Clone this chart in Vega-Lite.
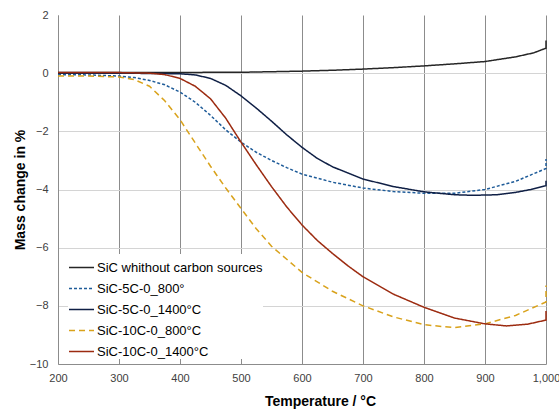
{
  "$schema": "https://vega.github.io/schema/vega-lite/v6.json",
  "width": 488,
  "height": 349,
  "autosize": {"type": "none"},
  "padding": {"left": 58, "top": 15, "right": 13, "bottom": 45},
  "background": "white",
  "config": {
    "font": "Liberation Sans",
    "view": {"stroke": null},
    "axis": {"labelFont": "Liberation Sans", "titleFont": "Liberation Sans", "labelColor": "#404040", "labelFontSize": 11, "titleFontSize": 14, "titleFontWeight": "bold", "titleColor": "#000000", "ticks": false, "domainColor": "#8c8c8c"}
  },
  "data": {"values": [
    {"s": "SiC whithout carbon sources", "o": 1, "T": 200, "v": 0.02},
    {"s": "SiC whithout carbon sources", "o": 2, "T": 300, "v": 0.02},
    {"s": "SiC whithout carbon sources", "o": 3, "T": 400, "v": 0.02},
    {"s": "SiC whithout carbon sources", "o": 4, "T": 450, "v": 0.03},
    {"s": "SiC whithout carbon sources", "o": 5, "T": 500, "v": 0.03},
    {"s": "SiC whithout carbon sources", "o": 6, "T": 550, "v": 0.05},
    {"s": "SiC whithout carbon sources", "o": 7, "T": 600, "v": 0.07},
    {"s": "SiC whithout carbon sources", "o": 8, "T": 650, "v": 0.1},
    {"s": "SiC whithout carbon sources", "o": 9, "T": 700, "v": 0.14},
    {"s": "SiC whithout carbon sources", "o": 10, "T": 750, "v": 0.19},
    {"s": "SiC whithout carbon sources", "o": 11, "T": 800, "v": 0.25},
    {"s": "SiC whithout carbon sources", "o": 12, "T": 850, "v": 0.32},
    {"s": "SiC whithout carbon sources", "o": 13, "T": 900, "v": 0.4},
    {"s": "SiC whithout carbon sources", "o": 14, "T": 950, "v": 0.56},
    {"s": "SiC whithout carbon sources", "o": 15, "T": 980, "v": 0.7},
    {"s": "SiC whithout carbon sources", "o": 16, "T": 1000, "v": 0.86},
    {"s": "SiC whithout carbon sources", "o": 17, "T": 1000, "v": 1.12},

    {"s": "SiC-5C-0_800°", "o": 1, "T": 200, "v": -0.05},
    {"s": "SiC-5C-0_800°", "o": 2, "T": 250, "v": -0.06},
    {"s": "SiC-5C-0_800°", "o": 3, "T": 300, "v": -0.1},
    {"s": "SiC-5C-0_800°", "o": 4, "T": 325, "v": -0.15},
    {"s": "SiC-5C-0_800°", "o": 5, "T": 350, "v": -0.25},
    {"s": "SiC-5C-0_800°", "o": 6, "T": 375, "v": -0.4},
    {"s": "SiC-5C-0_800°", "o": 7, "T": 400, "v": -0.65},
    {"s": "SiC-5C-0_800°", "o": 8, "T": 425, "v": -1.0},
    {"s": "SiC-5C-0_800°", "o": 9, "T": 450, "v": -1.45},
    {"s": "SiC-5C-0_800°", "o": 10, "T": 475, "v": -1.95},
    {"s": "SiC-5C-0_800°", "o": 11, "T": 500, "v": -2.37},
    {"s": "SiC-5C-0_800°", "o": 12, "T": 525, "v": -2.72},
    {"s": "SiC-5C-0_800°", "o": 13, "T": 550, "v": -3.0},
    {"s": "SiC-5C-0_800°", "o": 14, "T": 575, "v": -3.25},
    {"s": "SiC-5C-0_800°", "o": 15, "T": 600, "v": -3.47},
    {"s": "SiC-5C-0_800°", "o": 16, "T": 650, "v": -3.75},
    {"s": "SiC-5C-0_800°", "o": 17, "T": 700, "v": -3.95},
    {"s": "SiC-5C-0_800°", "o": 18, "T": 750, "v": -4.07},
    {"s": "SiC-5C-0_800°", "o": 19, "T": 800, "v": -4.13},
    {"s": "SiC-5C-0_800°", "o": 20, "T": 850, "v": -4.13},
    {"s": "SiC-5C-0_800°", "o": 21, "T": 900, "v": -4.0},
    {"s": "SiC-5C-0_800°", "o": 22, "T": 950, "v": -3.72},
    {"s": "SiC-5C-0_800°", "o": 23, "T": 1000, "v": -3.28},
    {"s": "SiC-5C-0_800°", "o": 24, "T": 1000, "v": -2.95},

    {"s": "SiC-5C-0_1400°C", "o": 1, "T": 200, "v": 0.0},
    {"s": "SiC-5C-0_1400°C", "o": 2, "T": 300, "v": 0.0},
    {"s": "SiC-5C-0_1400°C", "o": 3, "T": 400, "v": -0.02},
    {"s": "SiC-5C-0_1400°C", "o": 4, "T": 425, "v": -0.06},
    {"s": "SiC-5C-0_1400°C", "o": 5, "T": 450, "v": -0.18},
    {"s": "SiC-5C-0_1400°C", "o": 6, "T": 475, "v": -0.42},
    {"s": "SiC-5C-0_1400°C", "o": 7, "T": 500, "v": -0.78},
    {"s": "SiC-5C-0_1400°C", "o": 8, "T": 525, "v": -1.2},
    {"s": "SiC-5C-0_1400°C", "o": 9, "T": 550, "v": -1.65},
    {"s": "SiC-5C-0_1400°C", "o": 10, "T": 575, "v": -2.12},
    {"s": "SiC-5C-0_1400°C", "o": 11, "T": 600, "v": -2.55},
    {"s": "SiC-5C-0_1400°C", "o": 12, "T": 625, "v": -2.93},
    {"s": "SiC-5C-0_1400°C", "o": 13, "T": 650, "v": -3.22},
    {"s": "SiC-5C-0_1400°C", "o": 14, "T": 700, "v": -3.64},
    {"s": "SiC-5C-0_1400°C", "o": 15, "T": 750, "v": -3.9},
    {"s": "SiC-5C-0_1400°C", "o": 16, "T": 800, "v": -4.08},
    {"s": "SiC-5C-0_1400°C", "o": 17, "T": 850, "v": -4.18},
    {"s": "SiC-5C-0_1400°C", "o": 18, "T": 880, "v": -4.2},
    {"s": "SiC-5C-0_1400°C", "o": 19, "T": 920, "v": -4.18},
    {"s": "SiC-5C-0_1400°C", "o": 20, "T": 950, "v": -4.1},
    {"s": "SiC-5C-0_1400°C", "o": 21, "T": 975, "v": -4.0},
    {"s": "SiC-5C-0_1400°C", "o": 22, "T": 1000, "v": -3.87},
    {"s": "SiC-5C-0_1400°C", "o": 23, "T": 1000, "v": -3.7},

    {"s": "SiC-10C-0_800°C", "o": 1, "T": 200, "v": -0.1},
    {"s": "SiC-10C-0_800°C", "o": 2, "T": 250, "v": -0.1},
    {"s": "SiC-10C-0_800°C", "o": 3, "T": 300, "v": -0.13},
    {"s": "SiC-10C-0_800°C", "o": 4, "T": 325, "v": -0.22},
    {"s": "SiC-10C-0_800°C", "o": 5, "T": 350, "v": -0.45},
    {"s": "SiC-10C-0_800°C", "o": 6, "T": 375, "v": -0.95},
    {"s": "SiC-10C-0_800°C", "o": 7, "T": 400, "v": -1.6},
    {"s": "SiC-10C-0_800°C", "o": 8, "T": 425, "v": -2.4},
    {"s": "SiC-10C-0_800°C", "o": 9, "T": 450, "v": -3.2},
    {"s": "SiC-10C-0_800°C", "o": 10, "T": 475, "v": -3.95},
    {"s": "SiC-10C-0_800°C", "o": 11, "T": 500, "v": -4.65},
    {"s": "SiC-10C-0_800°C", "o": 12, "T": 525, "v": -5.35},
    {"s": "SiC-10C-0_800°C", "o": 13, "T": 550, "v": -5.95},
    {"s": "SiC-10C-0_800°C", "o": 14, "T": 575, "v": -6.4},
    {"s": "SiC-10C-0_800°C", "o": 15, "T": 600, "v": -6.85},
    {"s": "SiC-10C-0_800°C", "o": 16, "T": 650, "v": -7.5},
    {"s": "SiC-10C-0_800°C", "o": 17, "T": 700, "v": -8.0},
    {"s": "SiC-10C-0_800°C", "o": 18, "T": 750, "v": -8.38},
    {"s": "SiC-10C-0_800°C", "o": 19, "T": 800, "v": -8.65},
    {"s": "SiC-10C-0_800°C", "o": 20, "T": 850, "v": -8.75},
    {"s": "SiC-10C-0_800°C", "o": 21, "T": 900, "v": -8.62},
    {"s": "SiC-10C-0_800°C", "o": 22, "T": 950, "v": -8.33},
    {"s": "SiC-10C-0_800°C", "o": 23, "T": 1000, "v": -7.87},
    {"s": "SiC-10C-0_800°C", "o": 24, "T": 1000, "v": -7.3},

    {"s": "SiC-10C-0_1400°C", "o": 1, "T": 200, "v": 0.02},
    {"s": "SiC-10C-0_1400°C", "o": 2, "T": 300, "v": 0.02},
    {"s": "SiC-10C-0_1400°C", "o": 3, "T": 350, "v": 0.0},
    {"s": "SiC-10C-0_1400°C", "o": 4, "T": 375, "v": -0.05},
    {"s": "SiC-10C-0_1400°C", "o": 5, "T": 400, "v": -0.18},
    {"s": "SiC-10C-0_1400°C", "o": 6, "T": 425, "v": -0.45},
    {"s": "SiC-10C-0_1400°C", "o": 7, "T": 450, "v": -0.88},
    {"s": "SiC-10C-0_1400°C", "o": 8, "T": 475, "v": -1.55},
    {"s": "SiC-10C-0_1400°C", "o": 9, "T": 500, "v": -2.37},
    {"s": "SiC-10C-0_1400°C", "o": 10, "T": 525, "v": -3.15},
    {"s": "SiC-10C-0_1400°C", "o": 11, "T": 550, "v": -3.9},
    {"s": "SiC-10C-0_1400°C", "o": 12, "T": 575, "v": -4.6},
    {"s": "SiC-10C-0_1400°C", "o": 13, "T": 600, "v": -5.22},
    {"s": "SiC-10C-0_1400°C", "o": 14, "T": 625, "v": -5.75},
    {"s": "SiC-10C-0_1400°C", "o": 15, "T": 650, "v": -6.2},
    {"s": "SiC-10C-0_1400°C", "o": 16, "T": 675, "v": -6.62},
    {"s": "SiC-10C-0_1400°C", "o": 17, "T": 700, "v": -7.0},
    {"s": "SiC-10C-0_1400°C", "o": 18, "T": 750, "v": -7.6},
    {"s": "SiC-10C-0_1400°C", "o": 19, "T": 800, "v": -8.05},
    {"s": "SiC-10C-0_1400°C", "o": 20, "T": 850, "v": -8.42},
    {"s": "SiC-10C-0_1400°C", "o": 21, "T": 900, "v": -8.62},
    {"s": "SiC-10C-0_1400°C", "o": 22, "T": 935, "v": -8.69},
    {"s": "SiC-10C-0_1400°C", "o": 23, "T": 970, "v": -8.63},
    {"s": "SiC-10C-0_1400°C", "o": 24, "T": 1000, "v": -8.49},
    {"s": "SiC-10C-0_1400°C", "o": 25, "T": 1000, "v": -8.18}
  ]},
  "mark": {"type": "line", "strokeWidth": 1.5, "interpolate": "linear"},
  "encoding": {
    "x": {"field": "T", "type": "quantitative", "scale": {"domain": [200, 1000], "nice": false},
      "axis": {"title": "Temperature / °C", "values": [200, 300, 400, 500, 600, 700, 800, 900, 1000], "gridColor": "#8c8c8c", "gridWidth": 1, "labelPadding": 8, "titleX": 262, "titleY": 37, "titleBaseline": "middle", "labelFlush": false}},
    "y": {"field": "v", "type": "quantitative", "scale": {"domain": [-10, 2], "nice": false},
      "axis": {"title": "Mass change in %", "values": [-10, -8, -6, -4, -2, 0, 2], "gridColor": {"condition": {"test": "datum.value == 2", "value": "transparent"}, "value": "#d4d4d4"}, "gridWidth": 1.2, "labelPadding": 10, "titlePadding": 2, "labelFlush": false}},
    "order": {"field": "o", "type": "quantitative"},
    "color": {"field": "s", "type": "nominal",
      "scale": {"domain": ["SiC whithout carbon sources", "SiC-5C-0_800°", "SiC-5C-0_1400°C", "SiC-10C-0_800°C", "SiC-10C-0_1400°C"],
                "range": ["#262626", "#1f5c99", "#0f1f45", "#d9a21b", "#9c2b10"]},
      "legend": {"title": null, "orient": "none", "legendX": 10, "legendY": 239, "symbolType": "stroke", "symbolSize": 625, "symbolStrokeWidth": 1.5, "labelFontSize": 13, "labelLimit": 400, "labelColor": "#000000", "labelFont": "Liberation Sans", "rowPadding": 0, "labelOffset": 2, "padding": 0, "fillColor": "white"}},
    "strokeDash": {"field": "s", "type": "nominal",
      "scale": {"domain": ["SiC whithout carbon sources", "SiC-5C-0_800°", "SiC-5C-0_1400°C", "SiC-10C-0_800°C", "SiC-10C-0_1400°C"],
                "range": [[1, 0], [3, 2], [1, 0], [6, 4], [1, 0]]},
      "legend": {"title": null, "orient": "none", "legendX": 10, "legendY": 239, "symbolType": "stroke", "symbolSize": 625, "symbolStrokeWidth": 1.5, "labelFontSize": 13, "labelLimit": 400, "labelColor": "#000000", "labelFont": "Liberation Sans", "rowPadding": 0, "labelOffset": 2, "padding": 0, "fillColor": "white"}}
  }
}
